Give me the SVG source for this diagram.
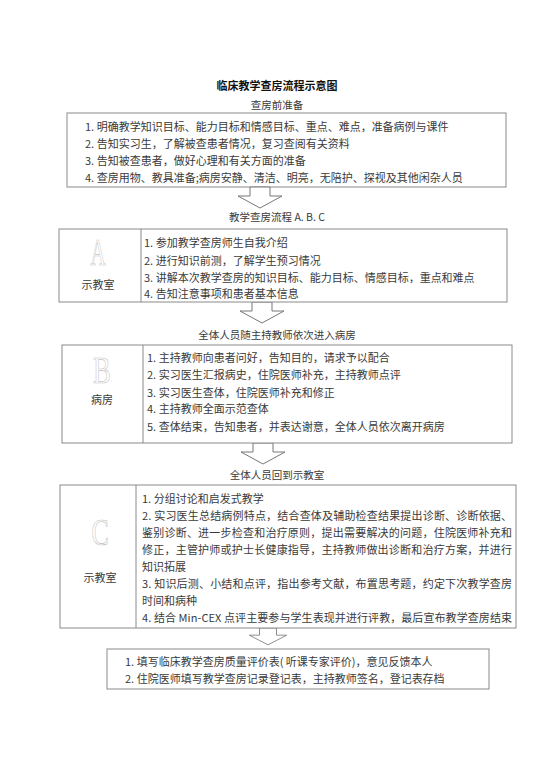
<svg xmlns="http://www.w3.org/2000/svg" width="554" height="759" viewBox="0 0 554 759">
<style>
  text { font-family: "Noto Sans CJK SC", "Noto Sans", sans-serif; fill: #3a3a3a; }
  .t { font-size: 11px; }
  .l { font-size: 10.5px; text-anchor: middle; }
  .c { text-anchor: middle; }
  .title { font-size: 11px; font-weight: bold; fill: #111; text-anchor: middle; }
  .box { fill: #fff; stroke: #8a8a8a; stroke-width: 1; }
  .div { stroke: #8a8a8a; stroke-width: 1; }
  .arrow { fill: #fff; stroke: #777; stroke-width: 1; }
  .big { font-family: "Liberation Serif", "DejaVu Serif", serif; font-size: 38px; fill: #fff; stroke: #c4c4c4; stroke-width: 0.7; text-anchor: middle; }
</style>
<defs>
  <path id="arr" d="M -10 0 L 10 0 L 10 9 L 22 9 L 0 21 L -22 9 L -10 9 Z"/>
</defs>
<rect width="554" height="759" fill="#fff"/>

<g id="title">
  <text class="title" x="277" y="90">临床教学查房流程示意图</text>
  <text class="l" x="277" y="109">查房前准备</text>
</g>

<g id="prep">
  <rect class="box" x="67" y="113" width="439" height="74"/>
  <text class="t" x="85" y="131">1. 明确教学知识目标、能力目标和情感目标、重点、难点，准备病例与课件</text>
  <text class="t" x="85" y="148">2. 告知实习生，了解被查患者情况，复习查阅有关资料</text>
  <text class="t" x="85" y="165">3. 告知被查患者，做好心理和有关方面的准备</text>
  <text class="t" x="85" y="182">4. 查房用物、教具准备;病房安静、清洁、明亮，无陪护、探视及其他闲杂人员</text>
</g>

<g id="connectors">
  <use href="#arr" class="arrow" transform="translate(260,187)"/>
  <use href="#arr" class="arrow" transform="translate(262,302)"/>
  <use href="#arr" class="arrow" transform="translate(263,443)"/>
  <use href="#arr" class="arrow" transform="translate(268,628) scale(0.85,0.8)"/>
</g>

<g id="label-abc">
  <text class="l" x="277" y="221">教学查房流程 A. B. C</text>
</g>

<g id="stepA">
  <rect class="box" x="59" y="229" width="448" height="73"/>
  <line class="div" x1="141" y1="229" x2="141" y2="302"/>
  <text class="big" x="98" y="265" transform="translate(98,0) scale(0.55,1) translate(-98,0)">A</text>
  <text class="t c" x="98" y="289">示教室</text>
  <text class="t" x="144" y="247">1. 参加教学查房师生自我介绍</text>
  <text class="t" x="144" y="265">2. 进行知识前测，了解学生预习情况</text>
  <text class="t" x="144" y="282">3. 讲解本次教学查房的知识目标、能力目标、情感目标，重点和难点</text>
  <text class="t" x="144" y="298">4. 告知注意事项和患者基本信息</text>
</g>

<g id="label-ward">
  <text class="l" x="277" y="339">全体人员随主持教师依次进入病房</text>
</g>

<g id="stepB">
  <rect class="box" x="62" y="345" width="450" height="98"/>
  <line class="div" x1="143" y1="345" x2="143" y2="443"/>
  <text class="big" x="102" y="383" transform="translate(102,0) scale(0.7,1) translate(-102,0)">B</text>
  <text class="t c" x="102" y="404">病房</text>
  <text class="t" x="147" y="362">1. 主持教师向患者问好，告知目的，请求予以配合</text>
  <text class="t" x="147" y="379">2. 实习医生汇报病史，住院医师补充，主持教师点评</text>
  <text class="t" x="147" y="397">3. 实习医生查体，住院医师补充和修正</text>
  <text class="t" x="147" y="413">4. 主持教师全面示范查体</text>
  <text class="t" x="147" y="431">5. 查体结束，告知患者，并表达谢意，全体人员依次离开病房</text>
</g>

<g id="label-back">
  <text class="l" x="277" y="479">全体人员回到示教室</text>
</g>

<g id="stepC">
  <rect class="box" x="60" y="485" width="456" height="143"/>
  <line class="div" x1="136" y1="485" x2="136" y2="628"/>
  <text class="big" x="100" y="545" transform="translate(100,0) scale(0.68,1) translate(-100,0)">C</text>
  <text class="t c" x="100" y="582">示教室</text>
  <text class="t" x="142" y="503">1. 分组讨论和启发式教学</text>
  <text class="t" x="142" y="520" textLength="370" lengthAdjust="spacing">2. 实习医生总结病例特点，结合查体及辅助检查结果提出诊断、诊断依据、</text>
  <text class="t" x="142" y="537" textLength="370" lengthAdjust="spacing">鉴别诊断、进一步检查和治疗原则，提出需要解决的问题，住院医师补充和</text>
  <text class="t" x="142" y="554" textLength="370" lengthAdjust="spacing">修正，主管护师或护士长健康指导，主持教师做出诊断和治疗方案，并进行</text>
  <text class="t" x="142" y="571">知识拓展</text>
  <text class="t" x="142" y="588" textLength="370" lengthAdjust="spacing">3. 知识后测、小结和点评，指出参考文献，布置思考题，约定下次教学查房</text>
  <text class="t" x="142" y="605">时间和病种</text>
  <text class="t" x="142" y="622" textLength="370" lengthAdjust="spacing">4. 结合 Min-CEX 点评主要参与学生表现并进行评教，最后宣布教学查房结束</text>
</g>

<g id="final">
  <rect class="box" x="107" y="649" width="382" height="40"/>
  <text class="t" x="125" y="666">1. 填写临床教学查房质量评价表( 听课专家评价)，意见反馈本人</text>
  <text class="t" x="125" y="683">2. 住院医师填写教学查房记录登记表，主持教师签名，登记表存档</text>
</g>
</svg>
